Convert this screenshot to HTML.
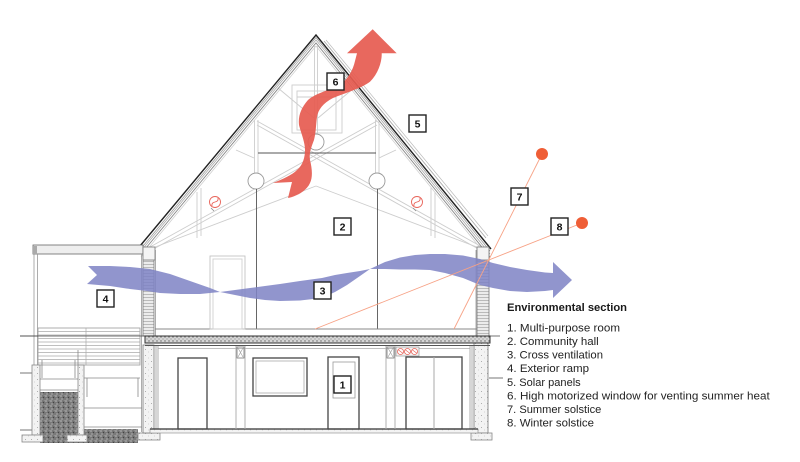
<!DOCTYPE html>
<html><head><meta charset="utf-8">
<style>
html,body{margin:0;padding:0;background:#fff;}
svg{display:block;}
text{font-family:"Liberation Sans",sans-serif;}
</style></head><body>
<svg width="800" height="462" viewBox="0 0 800 462" xmlns="http://www.w3.org/2000/svg">
<defs>
<pattern id="conc" width="6" height="6" patternUnits="userSpaceOnUse">
<rect width="6" height="6" fill="#f3f3f3"/>
<circle cx="1.5" cy="1.5" r="0.5" fill="#999"/>
<circle cx="4.5" cy="4" r="0.4" fill="#aaa"/>
</pattern>
<pattern id="grav" width="5" height="5" patternUnits="userSpaceOnUse">
<rect width="5" height="5" fill="#7a7a7a"/>
<circle cx="1" cy="1" r="0.8" fill="#bbb"/>
<circle cx="3.5" cy="2.5" r="0.7" fill="#444"/>
<circle cx="2" cy="4" r="0.6" fill="#ccc"/>
<circle cx="4.3" cy="0.5" r="0.5" fill="#999"/>
</pattern>
<pattern id="slab" width="4" height="4" patternUnits="userSpaceOnUse">
<rect width="4" height="4" fill="#d6d6d6"/>
<circle cx="1" cy="1" r="0.7" fill="#666"/>
<circle cx="3" cy="3" r="0.6" fill="#888"/>
</pattern>
<pattern id="mas" width="4" height="3" patternUnits="userSpaceOnUse">
<rect width="4" height="3" fill="#ececec"/>
<line x1="0" y1="0.5" x2="4" y2="0.5" stroke="#999" stroke-width="0.6"/>
</pattern>
</defs>

<!-- ===== TRUSS (light) ===== -->
<g stroke="#cdcdcd" stroke-width="0.9" fill="none">
  <line x1="150" y1="247" x2="377" y2="121"/>
  <line x1="150" y1="251" x2="377" y2="125"/>
  <line x1="482" y1="247" x2="257" y2="121"/>
  <line x1="482" y1="251" x2="257" y2="125"/>
  <line x1="150" y1="249" x2="316" y2="186"/>
  <line x1="482" y1="249" x2="316" y2="186"/>
  <line x1="314.5" y1="46" x2="314.5" y2="134"/>
  <line x1="317.5" y1="46" x2="317.5" y2="134"/>
  <line x1="254.5" y1="120" x2="254.5" y2="173"/>
  <line x1="258" y1="120" x2="258" y2="173"/>
  <line x1="375.5" y1="120" x2="375.5" y2="173"/>
  <line x1="379" y1="120" x2="379" y2="173"/>
  <line x1="278" y1="88" x2="314" y2="118"/>
  <line x1="354" y1="88" x2="318" y2="118"/>
  <line x1="197" y1="192" x2="197" y2="238"/>
  <line x1="201" y1="188" x2="201" y2="236"/>
  <line x1="431" y1="188" x2="431" y2="236"/>
  <line x1="435" y1="192" x2="435" y2="238"/>
  <line x1="236" y1="150" x2="254" y2="158"/>
  <line x1="396" y1="150" x2="379" y2="158"/>
  <rect x="292" y="85" width="50" height="48"/>
  <rect x="297" y="91" width="39" height="39"/>
  <line x1="297" y1="97" x2="336" y2="97"/>
</g>
<g stroke="#999" stroke-width="0.9" fill="#fff">
  <circle cx="316" cy="142" r="8"/>
  <circle cx="256" cy="181" r="8"/>
  <circle cx="377" cy="181" r="8"/>
</g>
<g stroke="#555" stroke-width="0.9">
  <line x1="258" y1="153" x2="376" y2="153"/>
  <line x1="256.5" y1="189" x2="256.5" y2="329"/>
  <line x1="377.5" y1="189" x2="377.5" y2="329"/>
</g>
<!-- fans -->
<g stroke="#e8645a" stroke-width="0.9" fill="none">
  <circle cx="215" cy="202" r="5.5"/>
  <path d="M212 206 C 211 200, 219 204, 218 198"/>
  <circle cx="417" cy="202" r="5.5"/>
  <path d="M414 206 C 413 200, 421 204, 420 198"/>
</g>
<g stroke="#888" stroke-width="0.8">
  <line x1="211" y1="208" x2="214" y2="211"/>
  <line x1="413" y1="208" x2="416" y2="211"/>
</g>

<!-- ===== ROOF ===== -->
<g fill="none">
  <polyline points="141,257 316,46 490,260" stroke="#d0d0d0" stroke-width="0.8"/>
  <polyline points="141,254 316,43 490,257" stroke="#888" stroke-width="0.9"/>
  <polyline points="141,251 316,40 490,254" stroke="#aaa" stroke-width="0.8"/>
  <polyline points="141,248.5 316,37.5 490,251" stroke="#999" stroke-width="0.8"/>
  <polyline points="140,246 316,35 491,249" stroke="#222" stroke-width="1.4"/>
  <line x1="324" y1="41" x2="486" y2="238" stroke="#aaa" stroke-width="0.9"/>
  <line x1="326" y1="40" x2="488" y2="236" stroke="#bbb" stroke-width="0.7"/>
</g>

<!-- ===== RAMP (left) ===== -->
<rect x="33" y="245" width="110" height="9" fill="#eee" stroke="#666" stroke-width="0.8"/>
<rect x="33" y="246" width="4" height="8" fill="#aaa"/>
<g stroke="#999" stroke-width="0.8">
  <line x1="34" y1="254" x2="34" y2="365"/>
  <line x1="37.5" y1="254" x2="37.5" y2="365"/>
  <line x1="141.5" y1="254" x2="141.5" y2="432"/>
</g>
<rect x="38" y="328" width="102" height="37" fill="#fff" stroke="#999" stroke-width="0.8"/>
<g stroke="#aaa" stroke-width="0.7">
  <line x1="38" y1="331.5" x2="140" y2="331.5"/>
  <line x1="38" y1="335" x2="140" y2="335"/>
  <line x1="38" y1="338.5" x2="140" y2="338.5"/>
  <line x1="38" y1="342" x2="140" y2="342"/>
  <line x1="38" y1="345.5" x2="140" y2="345.5"/>
  <line x1="38" y1="349" x2="140" y2="349"/>
  <line x1="38" y1="352.5" x2="140" y2="352.5"/>
  <line x1="38" y1="356" x2="140" y2="356"/>
  <line x1="38" y1="359.5" x2="140" y2="359.5"/>
  <line x1="38" y1="363" x2="140" y2="363"/>
  <line x1="86" y1="328" x2="86" y2="365"/>
</g>
<g stroke="#555" stroke-width="0.8">
  <line x1="20" y1="336" x2="38" y2="336"/>
  <line x1="20" y1="373" x2="32" y2="373"/>
  <line x1="20" y1="430" x2="32" y2="430"/>
</g>
<rect x="40" y="392" width="38" height="40" fill="url(#grav)"/>
<rect x="40" y="429" width="98" height="14" fill="url(#grav)"/>
<rect x="32" y="365" width="8" height="70" fill="url(#conc)" stroke="#888" stroke-width="0.8"/>
<rect x="78" y="365" width="6" height="70" fill="url(#conc)" stroke="#888" stroke-width="0.8"/>
<g stroke="#888" stroke-width="0.8" fill="none">
  <line x1="40" y1="379" x2="78" y2="379"/>
  <line x1="40" y1="390" x2="78" y2="390"/>
  <line x1="84" y1="378" x2="140" y2="378"/>
  <line x1="84" y1="408" x2="142" y2="408"/>
  <line x1="84" y1="427" x2="142" y2="427"/>
  <line x1="87" y1="378" x2="87" y2="397"/>
  <line x1="138" y1="378" x2="138" y2="397"/>
  <line x1="42" y1="360" x2="42" y2="378"/>
  <line x1="75" y1="360" x2="75" y2="378"/>
  <line x1="78" y1="350" x2="78" y2="365"/>
</g>
<rect x="22" y="435" width="21" height="7" fill="url(#conc)" stroke="#888" stroke-width="0.8"/>
<rect x="67" y="435" width="20" height="7" fill="url(#conc)" stroke="#888" stroke-width="0.8"/>
<rect x="138" y="433" width="22" height="7" fill="url(#conc)" stroke="#888" stroke-width="0.8"/>

<!-- ===== WALLS ===== -->
<rect x="143" y="250" width="11" height="86" fill="url(#mas)" stroke="#777" stroke-width="0.8"/>
<rect x="143" y="247" width="12" height="13" fill="#f4f4f4" stroke="#777" stroke-width="0.8"/>
<rect x="477" y="250" width="12" height="86" fill="url(#mas)" stroke="#777" stroke-width="0.8"/>
<rect x="477" y="247" width="12" height="13" fill="#f4f4f4" stroke="#777" stroke-width="0.8"/>
<rect x="143" y="345" width="11" height="88" fill="url(#conc)" stroke="#777" stroke-width="0.8"/>
<rect x="474" y="343" width="14" height="90" fill="url(#conc)" stroke="#777" stroke-width="0.8"/>
<rect x="471" y="433" width="21" height="7" fill="url(#conc)" stroke="#888" stroke-width="0.8"/>
<g stroke="#999" stroke-width="0.8">
  <line x1="156" y1="345" x2="156" y2="429"/>
  <line x1="158" y1="345" x2="158" y2="429"/>
  <line x1="470" y1="345" x2="470" y2="429"/>
  <line x1="472" y1="345" x2="472" y2="429"/>
  <line x1="155.5" y1="250" x2="155.5" y2="336"/>
  <line x1="476" y1="250" x2="476" y2="336"/>
</g>

<!-- upper floor -->
<g stroke="#888" stroke-width="0.9" fill="none">
  <line x1="155" y1="329" x2="477" y2="329"/>
  <rect x="210" y="256" width="35" height="73" stroke="#c4c4c4"/>
  <rect x="213" y="259" width="29" height="70" stroke="#d0d0d0"/>
</g>
<line x1="20" y1="336" x2="500" y2="336" stroke="#444" stroke-width="0.8"/>
<rect x="145" y="336" width="345" height="7" fill="url(#slab)" stroke="#333" stroke-width="1"/>
<line x1="145" y1="345.5" x2="490" y2="345.5" stroke="#555" stroke-width="0.9"/>
<line x1="158" y1="348.5" x2="470" y2="348.5" stroke="#aaa" stroke-width="0.8"/>
<line x1="489" y1="378" x2="503" y2="378" stroke="#555" stroke-width="0.8"/>

<!-- ground floor -->
<rect x="150" y="429" width="328" height="4" fill="url(#conc)" stroke="#888" stroke-width="0.6"/>
<line x1="150" y1="429" x2="478" y2="429" stroke="#333" stroke-width="1.3"/>
<g fill="none">
  <rect x="178" y="358" width="29" height="71" stroke="#444" stroke-width="1.3"/>
  <line x1="236" y1="346" x2="236" y2="429" stroke="#aaa" stroke-width="0.9"/>
  <line x1="245" y1="346" x2="245" y2="429" stroke="#aaa" stroke-width="0.9"/>
  <rect x="237" y="347" width="7" height="11" stroke="#777" stroke-width="0.8"/>
  <path d="M238 348 L243 357 M243 348 L238 357" stroke="#999" stroke-width="0.6"/>
  <rect x="253" y="358" width="54" height="38" stroke="#444" stroke-width="1.3"/>
  <rect x="256" y="361" width="48" height="32" stroke="#aaa" stroke-width="0.8"/>
  <rect x="328" y="357" width="31" height="72" stroke="#444" stroke-width="1.3"/>
  <rect x="333" y="362" width="22" height="36" stroke="#999" stroke-width="0.8"/>
  <line x1="386" y1="346" x2="386" y2="429" stroke="#aaa" stroke-width="0.9"/>
  <line x1="395" y1="346" x2="395" y2="429" stroke="#aaa" stroke-width="0.9"/>
  <rect x="387" y="347" width="7" height="11" stroke="#777" stroke-width="0.8"/>
  <path d="M388 348 L393 357 M393 348 L388 357" stroke="#999" stroke-width="0.6"/>
  <rect x="396" y="347" width="23" height="9" stroke="#999" stroke-width="0.7" fill="#f4f4f4"/>
  <rect x="406" y="357" width="56" height="72" stroke="#444" stroke-width="1.3"/>
  <line x1="434" y1="357" x2="434" y2="429" stroke="#aaa" stroke-width="1"/>
</g>
<g stroke="#e8645a" stroke-width="0.8" fill="#fff">
  <circle cx="400.5" cy="351.5" r="3"/>
  <circle cx="407.5" cy="351.5" r="3"/>
  <circle cx="414.5" cy="351.5" r="3"/>
</g>
<g stroke="#e8645a" stroke-width="0.7">
  <line x1="398.5" y1="350" x2="402.5" y2="353"/>
  <line x1="405.5" y1="350" x2="409.5" y2="353"/>
  <line x1="412.5" y1="350" x2="416.5" y2="353"/>
</g>

<!-- ===== BLUE RIBBON ===== -->
<path fill="#7f84c5" fill-opacity="0.86" d="M88,266 L110,266 L130,267 L150,269 L170,274 L190,281 L210,288 L220,292 L235,295 L250,298 L265,300 L280,301 L300,300.5 L322,298 L335,292 L347,285 L360,276 L370,269 L385,262 L400,257.5 L415,255 L430,254 L445,254 L463,255.5 L480,259 L493,263 L510,267 L527,270 L545,272.5 L553,273 L553,262 L572,280 L553,298 L553,290 L545,291 L527,292 L510,291 L493,288 L480,285 L463,278 L445,273 L430,270 L415,269.5 L400,269.5 L385,269 L370,269 L360,271 L347,273 L335,275 L322,278 L300,281 L280,284 L265,286 L250,288 L235,290 L220,292 L200,294 L180,294 L160,293 L147,291 L130,289 L110,286 L87,284 L97,275 Z"/>

<!-- ===== RED ARROW ===== -->
<path fill="#e65c52" fill-opacity="0.93" d="M347,53.3 L372.7,29.3 L396.7,53.3 L381.7,53.3 C382,62 378,74 370,81.7 C362,88 345,93 333,98 C323,103 318,110 317,117 C316,124 316,132 314,140 C311,148 309,153 310,160 C312,168 313,177 310,183 C307,190 298,196 288,198 L292,182 L273,183 C283,179 292,175 297,170 C303,165 305,157 305,150 C305,142 301,133 299,125 C298,116 301,108 308,100 C316,93 330,90 340,85 C348,79 353,70 355,61 L357,53.3 Z"/>

<!-- ===== SUN LINES ===== -->
<g stroke="#f7a286" stroke-width="0.9">
  <line x1="542" y1="154" x2="454" y2="329"/>
  <line x1="582" y1="223" x2="315" y2="329"/>
</g>
<circle cx="542" cy="154" r="6" fill="#ef5e36"/>
<circle cx="582" cy="223" r="6" fill="#ef5e36"/>

<!-- ===== LABEL BOXES ===== -->
<g fill="#fff" stroke="#222" stroke-width="1.4">
  <rect x="327" y="73" width="17" height="17"/>
  <rect x="409" y="115" width="17" height="17"/>
  <rect x="334" y="218" width="17" height="17"/>
  <rect x="511" y="188" width="17" height="17"/>
  <rect x="551" y="218" width="17" height="17"/>
  <rect x="314" y="282" width="17" height="17"/>
  <rect x="97" y="290" width="17" height="17"/>
  <rect x="334" y="376" width="17" height="17"/>
</g>
<g font-size="10.5" font-weight="bold" fill="#111" text-anchor="middle">
  <text x="335.5" y="85.5">6</text>
  <text x="417.5" y="127.5">5</text>
  <text x="342.5" y="230.5">2</text>
  <text x="519.5" y="200.5">7</text>
  <text x="559.5" y="230.5">8</text>
  <text x="322.5" y="294.5">3</text>
  <text x="105.5" y="302.5">4</text>
  <text x="342.5" y="388.5">1</text>
</g>

<!-- ===== LEGEND ===== -->
<text x="507" y="311" font-size="11" font-weight="bold" fill="#1a1a1a" textLength="120" lengthAdjust="spacingAndGlyphs">Environmental section</text>
<g font-size="11.3" fill="#222">
  <text x="507" y="331.5" textLength="113" lengthAdjust="spacingAndGlyphs">1. Multi-purpose room</text>
  <text x="507" y="345.1" textLength="91.7" lengthAdjust="spacingAndGlyphs">2. Community hall</text>
  <text x="507" y="358.6" textLength="96" lengthAdjust="spacingAndGlyphs">3. Cross ventilation</text>
  <text x="507" y="372.2" textLength="82" lengthAdjust="spacingAndGlyphs">4. Exterior ramp</text>
  <text x="507" y="385.8" textLength="73.7" lengthAdjust="spacingAndGlyphs">5. Solar panels</text>
  <text x="507" y="399.4" textLength="262.7" lengthAdjust="spacingAndGlyphs">6. High motorized window for venting summer heat</text>
  <text x="507" y="412.9" textLength="94.3" lengthAdjust="spacingAndGlyphs">7. Summer solstice</text>
  <text x="507" y="426.5" textLength="87" lengthAdjust="spacingAndGlyphs">8. Winter solstice</text>
</g>
</svg>
</body></html>
